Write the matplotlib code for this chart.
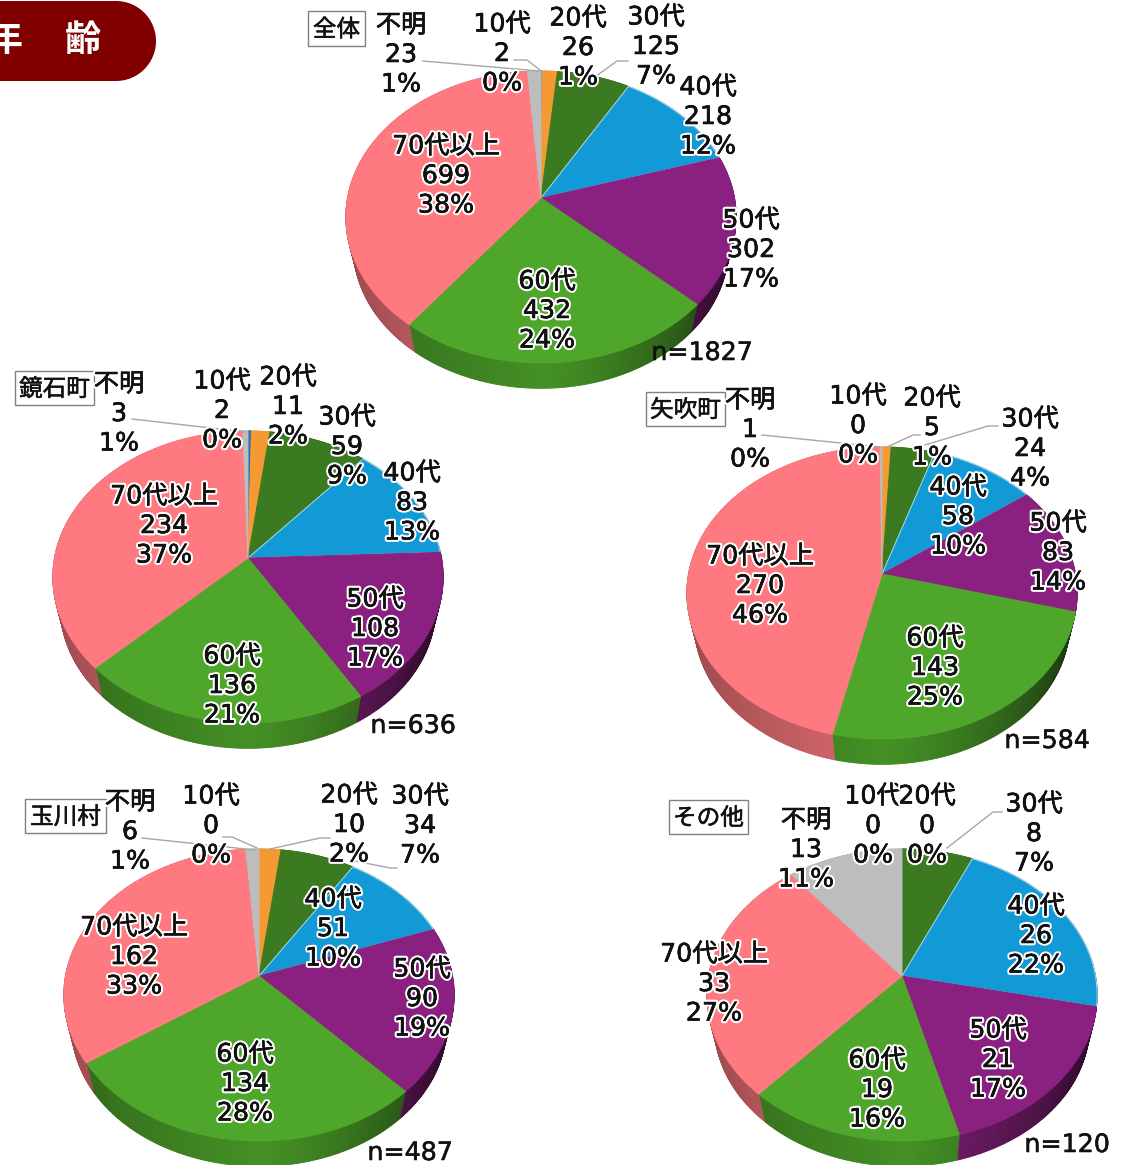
import numpy as np
import matplotlib
matplotlib.use("Agg")
import matplotlib.pyplot as plt
import matplotlib.patheffects as pe
from matplotlib.colors import to_rgb
from matplotlib.patches import Circle, Rectangle

plt.rcParams["font.family"] = ["DejaVu Sans", "Noto Sans CJK JP"]

ages = ["10代", "20代", "30代", "40代", "50代", "60代", "70代以上", "不明"]
colors = ["#1F6FB5", "#F59A32", "#3B7A20", "#129AD6", "#8A2080", "#4EA72A", "#FF7A80", "#BDBDBD"]

zentai_counts = [2, 26, 125, 218, 302, 432, 699, 23]
zentai_pct = [0, 1, 7, 12, 17, 24, 38, 1]
kagamiishi_counts = [2, 11, 59, 83, 108, 136, 234, 3]
kagamiishi_pct = [0, 2, 9, 13, 17, 21, 37, 1]
yabuki_counts = [0, 5, 24, 58, 83, 143, 270, 1]
yabuki_pct = [0, 1, 4, 10, 14, 25, 46, 0]
tamakawa_counts = [0, 10, 34, 51, 90, 134, 162, 6]
tamakawa_pct = [0, 2, 7, 10, 19, 28, 33, 1]
sonota_counts = [0, 0, 8, 26, 21, 19, 33, 13]
sonota_pct = [0, 0, 7, 22, 17, 16, 27, 11]

# layout in picture pixels
PANELS = [
    {
        "name": "全体", "counts": zentai_counts, "pct": zentai_pct, "n": 1827,
        "apex": (541, 198), "box": (308, 11, 57, 35), "n_pos": (702, 352),
        "labels": [(502, 53), (578, 47), (656, 46), (708, 116), (751, 249), (547, 310), (446, 175), (401, 54)],
        "leaders": [[(423, 61), (539, 71)], [(514, 60), (527, 60), (540, 70)], [(628, 61), (617, 61), (595, 77)]],
    },
    {
        "name": "鏡石町", "counts": kagamiishi_counts, "pct": kagamiishi_pct, "n": 636,
        "apex": (248, 558), "box": (15, 371, 79, 34), "n_pos": (413, 725),
        "labels": [(222, 410), (288, 406), (347, 446), (412, 502), (375, 628), (232, 685), (164, 525), (119, 413)],
        "leaders": [[(132, 419), (246, 432)]],
    },
    {
        "name": "矢吹町", "counts": yabuki_counts, "pct": yabuki_pct, "n": 584,
        "apex": (882, 574), "box": (646, 392, 79, 34), "n_pos": (1047, 740),
        "labels": [(858, 425), (932, 427), (1030, 448), (958, 516), (1058, 552), (935, 667), (760, 585), (750, 429)],
        "leaders": [[(762, 435), (880, 447)], [(920, 435), (913, 435), (887, 447)], [(998, 426), (988, 426), (925, 445)]],
    },
    {
        "name": "玉川村", "counts": tamakawa_counts, "pct": tamakawa_pct, "n": 487,
        "apex": (259, 976), "box": (25, 799, 81, 34), "n_pos": (410, 1152),
        "labels": [(211, 825), (349, 824), (420, 825), (333, 928), (422, 998), (245, 1083), (134, 956), (130, 831)],
        "leaders": [[(142, 838), (255, 850)], [(223, 837), (232, 837), (257, 848)],
                    [(330, 838), (320, 838), (270, 849)], [(397, 868), (390, 868), (350, 860)]],
    },
    {
        "name": "その他", "counts": sonota_counts, "pct": sonota_pct, "n": 120,
        "apex": (902, 976), "box": (669, 800, 79, 34), "n_pos": (1067, 1144),
        "labels": [(873, 825), (927, 825), (1034, 833), (1036, 935), (998, 1059), (877, 1089), (714, 983), (806, 849)],
        "leaders": [[(1002, 812), (993, 812), (947, 848)]],
    },
]

# perspective of the tilted disc: apex sits above the middle of the ellipse
HALF_W = 193.5
HALF_H = 143.5
TILT = 0.13
SIDE_SCALE = 0.96
SIDE_DROP = 32
LINE_GAP = 29.5
LABEL_SIZE = 18.2
TEXT_SHIFT = -1.5


def project(theta):
    u, v = np.sin(theta), np.cos(theta)
    f = 1 + TILT * v
    return HALF_W * u / f, -HALF_H * v / f


def side_shade(theta):
    # front of the rim is light, both ends dark, right end darkest
    u = np.sin(theta)
    return 0.86 - 0.25 * max(-u, 0) - 0.55 * max(u, 0) ** 1.3


def draw_pie(ax, panel):
    cx, cy = panel["apex"]
    values = np.array(panel["counts"], dtype=float)
    edges = np.concatenate([[0], np.cumsum(values)]) / values.sum() * 2 * np.pi

    # rim first, the top face covers what should not show
    for start, end, color in zip(edges[:-1], edges[1:], colors):
        if end <= start:
            continue
        base = np.array(to_rgb(color))
        steps = np.linspace(start, end, max(int((end - start) * 90), 2))
        for t0, t1 in zip(steps[:-1], steps[1:]):
            x, y = project(np.array([t0, t1]))
            xs = np.concatenate([x, x[::-1] * SIDE_SCALE]) + cx
            ys = np.concatenate([y, y[::-1] * SIDE_SCALE + SIDE_DROP]) + cy
            shade = base * side_shade((t0 + t1) / 2)
            ax.fill(xs, ys, color=shade, linewidth=0.6, zorder=2)

    for start, end, color, age in zip(edges[:-1], edges[1:], colors, ages):
        if end <= start:
            continue
        x, y = project(np.linspace(start, end, max(int((end - start) * 60), 3)))
        edge = "#A9DBEE" if age == "40代" else color
        ax.fill(np.r_[0, x, 0] + cx, np.r_[0, y, 0] + cy, facecolor=color,
                edgecolor=edge, linewidth=0.7, zorder=3)


def draw_texts(ax, panel):
    # white halo, then a hairline so the glyphs read as heavy as the source
    halo = [pe.withStroke(linewidth=3.4, foreground="white"),
            pe.withStroke(linewidth=0.4, foreground="#111111")]
    heavy = [pe.withStroke(linewidth=0.4, foreground="#111111")]
    for points in panel["leaders"]:
        ax.plot(*zip(*points), color="#A6A6A6", linewidth=1, zorder=4)

    for age, count, pct, (x, y) in zip(ages, panel["counts"], panel["pct"], panel["labels"]):
        for i, line in enumerate([age, str(count), f"{pct}%"]):
            ax.text(x, y + (i - 1) * LINE_GAP + TEXT_SHIFT, line, fontsize=LABEL_SIZE, color="#111111",
                    ha="center", va="center_baseline", path_effects=halo, zorder=6)

    nx, ny = panel["n_pos"]
    ax.text(nx, ny + TEXT_SHIFT, f"n={panel['n']}", fontsize=LABEL_SIZE, color="#111111",
            ha="center", va="center_baseline", path_effects=heavy, zorder=6)

    bx, by, bw, bh = panel["box"]
    ax.text(bx + bw / 2, by + bh / 2 + 1, panel["name"], fontsize=17, color="#111111",
            ha="center", va="center", path_effects=heavy, zorder=7)
    ax.add_patch(Rectangle((bx, by), bw, bh, facecolor="white", edgecolor="#808080",
                           linewidth=1, zorder=5))


def main():
    fig = plt.figure(figsize=(11.24, 11.65), dpi=100)
    ax = fig.add_axes([0, 0, 1, 1])
    ax.set_xlim(0, 1124)
    ax.set_ylim(1165, 0)
    ax.axis("off")

    # header pill runs off the left edge, as in the source slide
    ax.add_patch(Rectangle((0, 1), 116, 80, facecolor="#800000", edgecolor="none", zorder=1))
    ax.add_patch(Circle((116, 41), 40, facecolor="#800000", edgecolor="none", zorder=1))
    ax.text(5, 41, "年", fontsize=26, fontweight="bold", color="white", ha="center", va="center", zorder=2)
    ax.text(83, 41, "齢", fontsize=26, fontweight="bold", color="white", ha="center", va="center", zorder=2)

    for panel in PANELS:
        draw_pie(ax, panel)
        draw_texts(ax, panel)

    fig.savefig("out.png", dpi=100)


if __name__ == "__main__":
    main()
